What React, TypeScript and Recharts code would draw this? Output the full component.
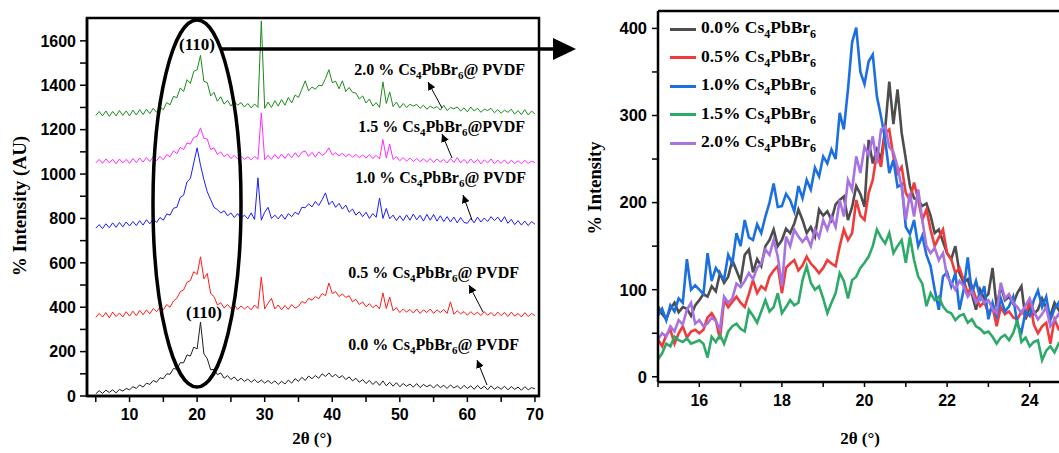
import { LineChart, Line, XAxis, YAxis, Legend } from "recharts"

// left panel: full XRD scans, 2θ from 5 to 70 (step 0.5)
const LEFT_X = [
  5, 5.5, 6, 6.5, 7, 7.5, 8, 8.5, 9, 9.5,
  10, 10.5, 11, 11.5, 12, 12.5, 13, 13.5, 14, 14.5,
  15, 15.5, 16, 16.5, 17, 17.5, 18, 18.5, 19, 19.5,
  20, 20.5, 21, 21.5, 22, 22.5, 23, 23.5, 24, 24.5,
  25, 25.5, 26, 26.5, 27, 27.5, 28, 28.5, 29, 29.5,
  30, 30.5, 31, 31.5, 32, 32.5, 33, 33.5, 34, 34.5,
  35, 35.5, 36, 36.5, 37, 37.5, 38, 38.5, 39, 39.5,
  40, 40.5, 41, 41.5, 42, 42.5, 43, 43.5, 44, 44.5,
  45, 45.5, 46, 46.5, 47, 47.5, 48, 48.5, 49, 49.5,
  50, 50.5, 51, 51.5, 52, 52.5, 53, 53.5, 54, 54.5,
  55, 55.5, 56, 56.5, 57, 57.5, 58, 58.5, 59, 59.5,
  60, 60.5, 61, 61.5, 62, 62.5, 63, 63.5, 64, 64.5,
  65, 65.5, 66, 66.5, 67, 67.5, 68, 68.5, 69, 69.5,
  70,
]

const XRD_00 = [
  10, 24, 12, 26, 16, 28, 14, 30, 22, 34,
  28, 42, 34, 50, 40, 58, 52, 70, 62, 82,
  78, 100, 98, 124, 120, 150, 150, 185, 180, 220,
  212, 333, 190, 168, 118, 120, 96, 104, 80, 92,
  74, 86, 68, 80, 66, 76, 62, 74, 60, 72,
  58, 70, 56, 68, 52, 66, 54, 72, 58, 78,
  66, 84, 70, 90, 78, 92, 80, 100, 88, 104,
  86, 98, 82, 92, 74, 86, 68, 80, 62, 74,
  56, 70, 52, 66, 48, 68, 46, 62, 44, 60,
  42, 56, 44, 54, 40, 56, 38, 52, 42, 50,
  36, 52, 38, 48, 34, 50, 36, 46, 32, 48,
  34, 46, 30, 48, 32, 44, 28, 46, 30, 42,
  30, 44, 28, 42, 30, 40, 26, 42, 28, 38,
  32,
]

const XRD_05 = [
  354, 372, 356, 376, 352, 378, 358, 374, 356, 380,
  360, 382, 362, 386, 366, 388, 370, 394, 380, 400,
  388, 412, 400, 428, 440, 470, 478, 512, 520, 560,
  548, 627, 528, 552, 462, 448, 410, 420, 396, 412,
  394, 410, 390, 406, 392, 404, 388, 410, 394, 536,
  392, 418, 440, 392, 410, 388, 408, 390, 412, 396,
  404, 426, 418, 440, 432, 448, 438, 462, 452, 509,
  462, 470, 448, 460, 444, 452, 424, 436, 412, 424,
  402, 416, 398, 410, 392, 464, 394, 446, 384, 398,
  376, 392, 378, 390, 374, 392, 372, 388, 376, 392,
  372, 388, 376, 390, 372, 424, 368, 384, 370, 380,
  364, 380, 366, 378, 362, 380, 364, 376, 360, 378,
  362, 376, 358, 378, 360, 372, 356, 376, 358, 372,
  362,
]

const XRD_10 = [
  756, 772, 754, 776, 758, 780, 760, 782, 762, 784,
  766, 786, 768, 790, 770, 794, 776, 798, 782, 804,
  792, 820, 815, 846, 850, 895, 905, 965, 980, 1050,
  1118, 1040, 975, 920, 885, 850, 840, 824, 835, 812,
  825, 804, 822, 800, 815, 798, 825, 795, 983, 792,
  828, 850, 800, 815, 798, 818, 796, 822, 808, 828,
  818, 850, 848, 866, 852, 876, 858, 885, 915, 862,
  878, 850, 868, 842, 860, 828, 842, 815, 830, 808,
  828, 800, 822, 805, 892, 800, 845, 798, 815, 790,
  812, 790, 816, 792, 820, 794, 814, 788, 818, 792,
  818, 788, 812, 786, 808, 784, 806, 780, 804, 782,
  778, 800, 780, 806, 784, 802, 786, 808, 790, 806,
  784, 808, 778, 796, 772, 790, 770, 788, 768, 786,
  774,
]

const XRD_15 = [
  1050, 1066, 1048, 1068, 1050, 1066, 1046, 1068, 1050, 1066,
  1048, 1070, 1052, 1072, 1054, 1074, 1056, 1078, 1060, 1080,
  1064, 1088, 1078, 1104, 1092, 1120, 1110, 1140, 1135, 1165,
  1170, 1208, 1160, 1158, 1110, 1118, 1088, 1100, 1078, 1090,
  1070, 1084, 1068, 1080, 1066, 1078, 1064, 1080, 1066, 1275,
  1064, 1084, 1066, 1088, 1068, 1090, 1070, 1092, 1074, 1096,
  1076, 1098, 1104, 1080, 1098, 1076, 1100, 1084, 1094, 1118,
  1086, 1096, 1082, 1094, 1078, 1090, 1076, 1088, 1074, 1086,
  1072, 1088, 1070, 1084, 1068, 1155, 1072, 1135, 1066, 1078,
  1060, 1074, 1058, 1072, 1056, 1070, 1056, 1068, 1054, 1070,
  1052, 1068, 1054, 1066, 1050, 1070, 1052, 1074, 1050, 1066,
  1048, 1068, 1050, 1066, 1046, 1064, 1050, 1068, 1046, 1062,
  1048, 1064, 1046, 1062, 1048, 1060, 1046, 1062, 1048, 1058,
  1052,
]

const XRD_20 = [
  1264, 1282, 1262, 1284, 1260, 1282, 1262, 1286, 1264, 1284,
  1262, 1288, 1266, 1290, 1268, 1292, 1272, 1296, 1278, 1302,
  1290, 1322, 1312, 1350, 1344, 1388, 1372, 1425, 1408, 1462,
  1470, 1535, 1418, 1412, 1352, 1368, 1328, 1348, 1315, 1332,
  1306, 1326, 1310, 1322, 1302, 1318, 1298, 1316, 1300, 1690,
  1296, 1324, 1300, 1330, 1306, 1336, 1310, 1345, 1320, 1356,
  1345, 1382, 1420, 1375, 1392, 1382, 1400, 1398, 1430, 1470,
  1412, 1418, 1384, 1420, 1372, 1390, 1368, 1365, 1338, 1352,
  1320, 1338, 1306, 1322, 1300, 1415, 1318, 1370, 1304, 1324,
  1298, 1318, 1300, 1314, 1306, 1314, 1296, 1310, 1292, 1306,
  1296, 1304, 1288, 1310, 1286, 1300, 1294, 1302, 1284, 1298,
  1280, 1302, 1284, 1296, 1278, 1292, 1286, 1296, 1276, 1290,
  1274, 1288, 1278, 1292, 1270, 1286, 1268, 1290, 1266, 1284,
  1270,
]

// right panel: zoom on the (110) peak, 2θ from 15 to 25 (step 0.1)
const RIGHT_X = [
  15, 15.1, 15.2, 15.3, 15.4, 15.5, 15.6, 15.7, 15.8, 15.9,
  16, 16.1, 16.2, 16.3, 16.4, 16.5, 16.6, 16.7, 16.8, 16.9,
  17, 17.1, 17.2, 17.3, 17.4, 17.5, 17.6, 17.7, 17.8, 17.9,
  18, 18.1, 18.2, 18.3, 18.4, 18.5, 18.6, 18.7, 18.8, 18.9,
  19, 19.1, 19.2, 19.3, 19.4, 19.5, 19.6, 19.7, 19.8, 19.9,
  20, 20.1, 20.2, 20.3, 20.4, 20.5, 20.6, 20.7, 20.8, 20.9,
  21, 21.1, 21.2, 21.3, 21.4, 21.5, 21.6, 21.7, 21.8, 21.9,
  22, 22.1, 22.2, 22.3, 22.4, 22.5, 22.6, 22.7, 22.8, 22.9,
  23, 23.1, 23.2, 23.3, 23.4, 23.5, 23.6, 23.7, 23.8, 23.9,
  24, 24.1, 24.2, 24.3, 24.4, 24.5, 24.6, 24.7, 24.8, 24.9,
  25,
]

const ZOOM_00 = [
  81, 72, 66, 78, 85, 74, 80, 78, 70, 82,
  88, 95, 92, 104, 98, 119, 108, 115, 134, 122,
  110, 140, 146, 120, 135, 127, 150, 157, 169, 150,
  157, 170, 165, 176, 192, 180, 165, 172, 161, 192,
  185, 190, 180, 198, 203, 207, 180, 195, 219, 210,
  195, 272, 245, 261, 250, 284, 339, 290, 330, 280,
  250, 219, 205, 203, 196, 199, 185, 165, 169, 155,
  142, 135, 150, 119, 108, 112, 95, 77, 100, 90,
  95, 125, 80, 104, 88, 92, 84, 96, 104, 66,
  80, 72, 77, 90, 79, 70, 85, 77, 68, 80,
  74,
]

const ZOOM_05 = [
  43, 35, 48, 54, 38, 50, 58, 45, 52, 54,
  50, 54, 68, 73, 65, 43, 88, 80, 86, 92,
  85, 80, 95, 111, 96, 104, 100, 115, 122, 127,
  96, 125, 130, 134, 122, 128, 138, 130, 125, 119,
  125, 134, 130, 127, 150, 169, 157, 165, 203, 185,
  180, 211, 226, 257, 241, 280, 284, 253, 234, 241,
  211, 203, 223, 203, 180, 192, 169, 150, 160, 169,
  142, 135, 119, 125, 111, 96, 104, 90, 81, 86,
  73, 80, 58, 80, 72, 75, 68, 66, 75, 70,
  88, 60, 50, 58, 62, 38, 66, 55, 60, 52,
  58,
]

const ZOOM_10 = [
  70, 78, 65, 82, 75, 90, 85, 135, 100, 105,
  100, 95, 142, 110, 125, 118, 112, 140, 130, 165,
  150, 180, 160, 157, 175, 165, 184, 200, 222, 195,
  196, 210, 203, 190, 219, 205, 226, 215, 240, 230,
  253, 245, 261, 250, 303, 284, 330, 384, 401, 350,
  336, 362, 370, 322, 299, 272, 234, 249, 218, 221,
  172, 164, 180, 150, 162, 140, 127, 100, 77, 115,
  120, 104, 119, 77, 100, 137, 96, 110, 90, 104,
  66, 85, 70, 90, 75, 81, 92, 60, 51, 75,
  70, 88, 99, 80, 92, 65, 78, 85, 70, 80,
  75,
]

const ZOOM_15 = [
  20, 27, 38, 35, 46, 42, 40, 44, 38, 40,
  42, 38, 22, 46, 40, 48, 38, 52, 58, 61,
  55, 52, 77, 70, 62, 75, 88, 75, 80, 96,
  73, 80, 88, 82, 85, 111, 127, 108, 100, 104,
  90, 73, 85, 96, 119, 110, 90, 111, 115, 125,
  131, 138, 150, 169, 160, 153, 165, 142, 150, 157,
  131, 161, 134, 115, 107, 81, 96, 88, 92, 81,
  75, 73, 65, 70, 72, 62, 66, 58, 55, 50,
  52, 46, 38, 45, 48, 42, 50, 65, 40, 45,
  35, 40, 42, 19, 30, 35, 28, 38, 32, 36,
  34,
]

const ZOOM_20 = [
  43, 50, 46, 58, 52, 65, 60, 77, 85, 61,
  65, 58, 61, 68, 64, 54, 92, 85, 90, 107,
  103, 110, 119, 112, 125, 130, 146, 140, 157, 138,
  104, 161, 150, 169, 161, 155, 161, 150, 169, 160,
  180, 169, 184, 172, 203, 184, 226, 215, 253, 234,
  264, 255, 276, 245, 284, 287, 264, 258, 241, 218,
  180, 211, 184, 215, 180, 150, 142, 148, 134, 142,
  115, 108, 100, 110, 104, 92, 98, 85, 92, 85,
  88, 78, 73, 108, 90, 95, 85, 80, 73, 82,
  90, 75, 66, 72, 80, 58, 65, 72, 62, 50,
  55,
]

const LEFT_TICKS_X = [5, 10, 15, 20, 25, 30, 35, 40, 45, 50, 55, 60, 65, 70]
const LEFT_TICKS_Y = [0, 100, 200, 300, 400, 500, 600, 700, 800, 900, 1000, 1100, 1200, 1300, 1400, 1500, 1600]
const RIGHT_TICKS_X = [15, 16, 17, 18, 19, 20, 21, 22, 23, 24, 25]
const RIGHT_TICKS_Y = [0, 50, 100, 150, 200, 250, 300, 350, 400]

const SANS = "'Liberation Sans', Arial, sans-serif"
const SERIF = "'Liberation Serif', 'Times New Roman', serif"

const xrdSeries = [
  { key: "s00", values: XRD_00, color: "#1e1e1e" },
  { key: "s05", values: XRD_05, color: "#ff1a1a" },
  { key: "s10", values: XRD_10, color: "#1a1aff" },
  { key: "s15", values: XRD_15, color: "#ff2bff" },
  { key: "s20", values: XRD_20, color: "#1b8a1b" },
]

const zoomSeries = [
  { key: "z00", name: "0.0%", values: ZOOM_00, color: "#4d4d4d" },
  { key: "z05", name: "0.5%", values: ZOOM_05, color: "#ef3b3b" },
  { key: "z10", name: "1.0%", values: ZOOM_10, color: "#1c6fdf" },
  { key: "z15", name: "1.5%", values: ZOOM_15, color: "#2eaa68" },
  { key: "z20", name: "2.0%", values: ZOOM_20, color: "#a872e0" },
]

const leftRows = LEFT_X.map((x, i) => {
  const row: Record<string, number> = { x }
  xrdSeries.forEach((s) => (row[s.key] = s.values[i]))
  return row
})

const rightRows = RIGHT_X.map((x, i) => {
  const row: Record<string, number> = { x }
  zoomSeries.forEach((s) => (row[s.key] = s.values[i]))
  return row
})

const axisLine = { stroke: "#000", strokeWidth: 2.5 }
const tickLine = { stroke: "#000", strokeWidth: 1.5 }

const LeftPanel = () => (
  <LineChart width={560} height={453} data={leftRows} margin={{ top: 18, right: 21, bottom: 0, left: 0 }}>
    <XAxis
      dataKey="x"
      type="number"
      domain={[3.7, 70.6]}
      allowDataOverflow
      ticks={LEFT_TICKS_X}
      interval={0}
      tickFormatter={(v: number) => (v % 10 === 0 ? String(v) : "")}
      height={57}
      tickSize={6}
      tickMargin={7}
      axisLine={axisLine}
      tickLine={tickLine}
      tick={{ fill: "#000", fontSize: 16, fontWeight: 700, fontFamily: SANS }}
    />
    <YAxis
      type="number"
      domain={[0, 1703]}
      allowDataOverflow
      ticks={LEFT_TICKS_Y}
      interval={0}
      tickFormatter={(v: number) => (v % 200 === 0 ? String(v) : "")}
      width={87}
      tickSize={7}
      tickMargin={4}
      axisLine={axisLine}
      tickLine={tickLine}
      tick={{ fill: "#000", fontSize: 16, fontWeight: 700, fontFamily: SANS }}
    />
    {xrdSeries.map((s) => (
      <Line key={s.key} dataKey={s.key} stroke={s.color} strokeWidth={1} dot={false} isAnimationActive={false} />
    ))}
  </LineChart>
)

const ZoomLegend = () => (
  <div style={{ fontFamily: SERIF, fontWeight: 700, fontSize: 17.5, color: "#000" }}>
    {zoomSeries.map((s) => (
      <div key={s.key} style={{ display: "flex", alignItems: "center", height: 28.5, whiteSpace: "nowrap" }}>
        <span style={{ display: "inline-block", width: 26, height: 3, background: s.color, marginRight: 5 }} />
        <span>
          {s.name} Cs<sub style={{ fontSize: 12 }}>4</sub>PbBr<sub style={{ fontSize: 12 }}>6</sub>
        </span>
      </div>
    ))}
  </div>
)

const RightPanel = () => (
  <LineChart width={516} height={453} data={rightRows} margin={{ top: 11, right: 5, bottom: 0, left: 0 }}>
    <XAxis
      dataKey="x"
      type="number"
      domain={[15, 25]}
      allowDataOverflow
      ticks={RIGHT_TICKS_X}
      interval={0}
      tickFormatter={(v: number) => (v % 2 === 0 ? String(v) : "")}
      height={71}
      tickSize={5}
      tickMargin={8}
      axisLine={axisLine}
      tickLine={tickLine}
      tick={{ fill: "#000", fontSize: 16, fontWeight: 700, fontFamily: SANS }}
    />
    <YAxis
      type="number"
      domain={[-6, 420]}
      allowDataOverflow
      ticks={RIGHT_TICKS_Y}
      interval={0}
      tickFormatter={(v: number) => (v % 100 === 0 ? String(v) : "")}
      width={98}
      tickSize={6}
      tickMargin={5}
      axisLine={axisLine}
      tickLine={tickLine}
      tick={{ fill: "#000", fontSize: 16.5, fontWeight: 700, fontFamily: SANS }}
    />
    <Legend
      layout="horizontal"
      verticalAlign="middle"
      align="center"
      wrapperStyle={{ left: 110, top: 15, width: 220 }}
      content={() => <ZoomLegend />}
    />
    {zoomSeries.map((s) => (
      <Line key={s.key} dataKey={s.key} name={s.name} stroke={s.color} strokeWidth={2.6} dot={false} isAnimationActive={false} />
    ))}
  </LineChart>
)

// sample label text with subscripts: Cs4PbBr6
const SampleLabel = ({ x, y, pct, gap }: { x: number; y: number; pct: string; gap: boolean }) => (
  <text x={x} y={y} textAnchor="end" fontFamily={SERIF} fontWeight={700} fontSize={16} fill="#000">
    {pct} % Cs
    <tspan dy={4} fontSize={11}>4</tspan>
    <tspan dy={-4}>PbBr</tspan>
    <tspan dy={4} fontSize={11}>6</tspan>
    <tspan dy={-4}>{gap ? "@ PVDF" : "@PVDF"}</tspan>
  </text>
)

const Annotations = () => (
  <svg width={1059} height={453} style={{ position: "absolute", left: 0, top: 0, pointerEvents: "none" }}>
    <defs>
      <marker id="head" markerWidth={8} markerHeight={8} refX={8} refY={4} orient="auto" markerUnits="userSpaceOnUse">
        <path d="M0,0 L8,4 L0,8 z" fill="#000" />
      </marker>
    </defs>
    {/* panel frames */}
    <rect x={87} y={18} width={452} height={378} fill="none" stroke="#000" strokeWidth={2.5} />
    <line x1={658} y1={11} x2={1059} y2={11} stroke="#000" strokeWidth={2.5} />

    <ellipse cx={197} cy={203.5} rx={44} ry={183.5} fill="none" stroke="#000" strokeWidth={3.5} />
    <line x1={221} y1={49} x2={556} y2={49} stroke="#000" strokeWidth={3.5} />
    <polygon points="553,38 576,49 553,60" fill="#000" />
    <text x={197} y={50} textAnchor="middle" fontFamily={SERIF} fontWeight={700} fontSize={17}>(110)</text>
    <text x={204} y={318} textAnchor="middle" fontFamily={SERIF} fontWeight={700} fontSize={17}>(110)</text>

    <SampleLabel x={525} y={75} pct="2.0" gap />
    <SampleLabel x={525} y={132} pct="1.5" gap={false} />
    <SampleLabel x={526} y={183} pct="1.0" gap />
    <SampleLabel x={519} y={278} pct="0.5" gap />
    <SampleLabel x={519} y={350} pct="0.0" gap />

    <line x1={442} y1={108} x2={428} y2={82} stroke="#000" strokeWidth={1} markerEnd="url(#head)" />
    <line x1={452} y1={158} x2={442} y2={134} stroke="#000" strokeWidth={1} markerEnd="url(#head)" />
    <line x1={472} y1={220} x2={463} y2={195} stroke="#000" strokeWidth={1} markerEnd="url(#head)" />
    <line x1={483} y1={312} x2={469} y2={285} stroke="#000" strokeWidth={1} markerEnd="url(#head)" />
    <line x1={487} y1={385} x2={477} y2={360} stroke="#000" strokeWidth={1} markerEnd="url(#head)" />

    <text transform="translate(19,206) rotate(-90)" textAnchor="middle" dominantBaseline="central" fontFamily={SERIF} fontWeight={700} fontSize={19}>% Intensity (AU)</text>
    <text x={312} y={438} textAnchor="middle" dominantBaseline="central" fontFamily={SERIF} fontWeight={700} fontSize={17}>2θ (°)</text>
    <text transform="translate(595,188) rotate(-90)" textAnchor="middle" dominantBaseline="central" fontFamily={SERIF} fontWeight={700} fontSize={18.5}>% Intensity</text>
    <text x={860} y={438} textAnchor="middle" dominantBaseline="central" fontFamily={SERIF} fontWeight={700} fontSize={17}>2θ (°)</text>
  </svg>
)

const App = () => (
  <div style={{ position: "absolute", left: 0, top: 0, width: 1059, height: 453, overflow: "hidden", background: "#fff" }}>
    <div style={{ position: "absolute", left: 0, top: 0 }}>
      <LeftPanel />
    </div>
    <div style={{ position: "absolute", left: 560, top: 0 }}>
      <RightPanel />
    </div>
    <Annotations />
  </div>
)

export default App
